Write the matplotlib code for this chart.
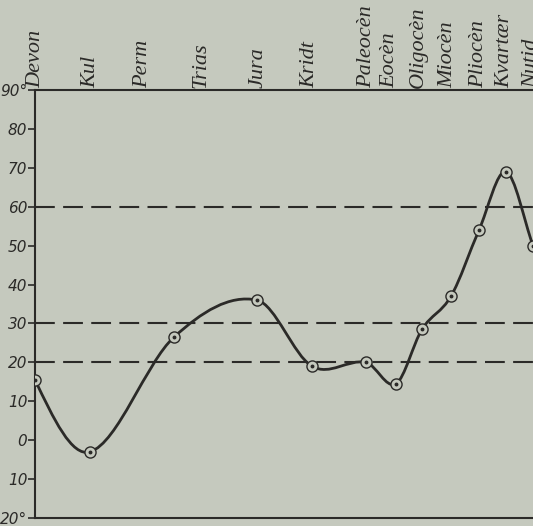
import numpy as np
import matplotlib.pyplot as plt
from matplotlib.path import Path
from matplotlib.patches import PathPatch

# period labels along the top and their horizontal positions
periods = ['Devon', 'Kul', 'Perm', 'Trias', 'Jura', 'Kridt', 'Paleocèn',
           'Eocèn', 'Oligocèn', 'Miocèn', 'Pliocèn', 'Kvartær', 'Nutid']
period_x = [1, 56, 108, 166, 223, 275, 332, 355, 383, 413, 444, 470, 497]

# temperature curve points
point_x = [0, 55, 139, 222, 277, 331, 361, 387, 416, 444, 471, 498]
point_y = [15.5, -3, 26.5, 36, 19, 20, 14.5, 28.5, 37, 54, 69, 50]

# dashed reference levels and y ticks
ref_levels = [60, 30, 20]
yticks = [90, 80, 70, 60, 50, 40, 30, 20, 10, 0, -10, -20]
ytick_labels = ['90°', '80', '70', '60', '50', '40', '30', '20', '10', '0', '10', '20°']

bg = '#c5c9be'
ink = '#2b2a28'


def spline_slopes(x, y):
    # finite-difference (Catmull-Rom style) tangents
    x = np.asarray(x, float)
    y = np.asarray(y, float)
    m = np.zeros_like(y)
    m[1:-1] = (y[2:] - y[:-2]) / (x[2:] - x[:-2])
    m[0] = 1.6 * (y[1] - y[0]) / (x[1] - x[0])
    m[-1] = (y[-1] - y[-2]) / (x[-1] - x[-2])
    return m


def smooth_path(x, y):
    m = spline_slopes(x, y)
    verts = [(x[0], y[0])]
    codes = [Path.MOVETO]
    for i in range(len(x) - 1):
        h = x[i + 1] - x[i]
        verts += [(x[i] + h / 3, y[i] + m[i] * h / 3),
                  (x[i + 1] - h / 3, y[i + 1] - m[i + 1] * h / 3),
                  (x[i + 1], y[i + 1])]
        codes += [Path.CURVE4] * 3
    return Path(verts, codes)


fig = plt.figure(figsize=(5.33, 5.26), dpi=100, facecolor=bg)
ax = fig.add_axes([0.0657, 0.0152, 0.9343, 0.8137])
ax.set_facecolor(bg)
ax.set_xlim(0, 498)
ax.set_ylim(-20, 90)

for lvl in ref_levels:
    ax.axhline(lvl, color=ink, lw=1.5, dashes=(9.5, 4))

ax.add_patch(PathPatch(smooth_path(point_x, point_y), fill=False,
                       edgecolor=ink, lw=2.0, zorder=3))
ax.plot(point_x, point_y, 'o', ms=8, mfc=bg, mec=ink, mew=1.0, zorder=4)
ax.plot(point_x, point_y, 'o', ms=1.8, mfc=ink, mec=ink, zorder=5)

ax.spines['right'].set_visible(False)
for s in ['left', 'top', 'bottom']:
    ax.spines[s].set_color(ink)
    ax.spines[s].set_linewidth(1.5)

ax.set_xticks([])
ax.set_yticks(yticks)
ax.set_yticklabels(ytick_labels, fontfamily='DejaVu Sans',
                   fontstyle='italic', fontsize=11, color=ink)
ax.tick_params(axis='y', direction='out', length=5, width=1.2, color=ink, pad=0.5)

for name, px in zip(periods, period_x):
    ax.text(px, 90.4, name, rotation=90, ha='center', va='bottom',
            fontfamily='Liberation Serif', fontstyle='italic', fontsize=16,
            color=ink, clip_on=False)

fig.savefig('out.png', dpi=100, facecolor=bg)
